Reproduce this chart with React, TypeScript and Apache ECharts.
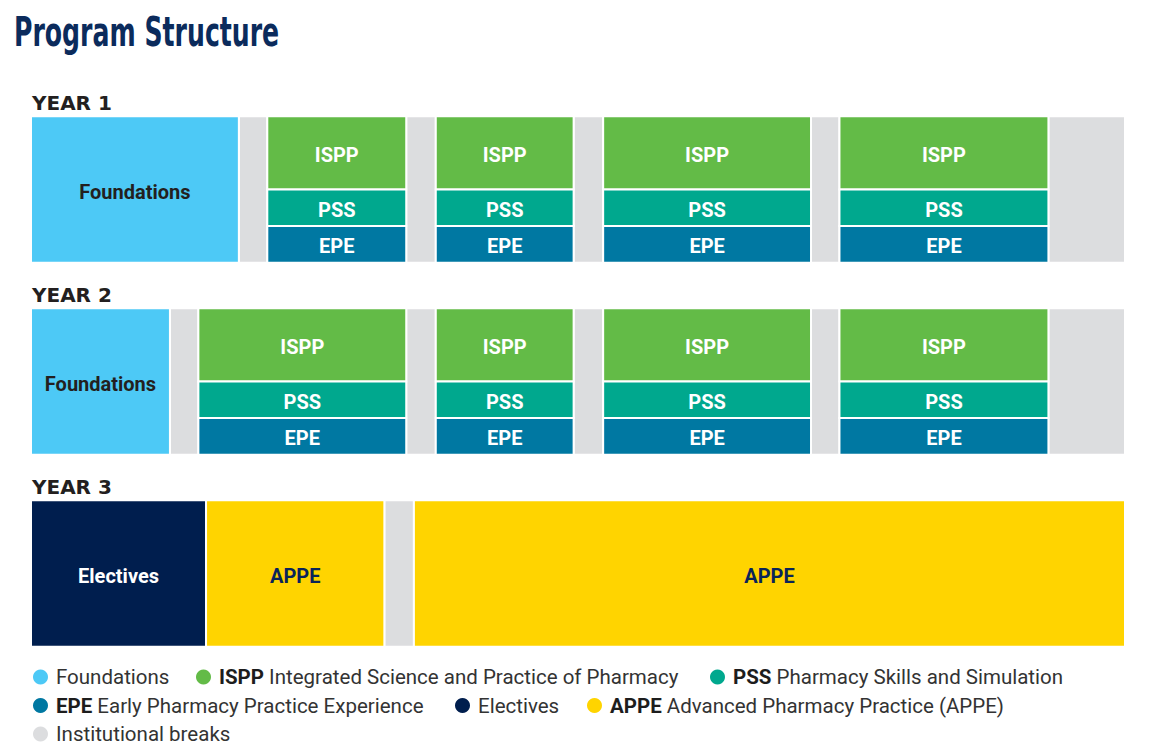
import { useEffect, useRef } from 'react';
import * as echarts from 'echarts';

// ---- data (x values are % of the academic year, rows are years) ----
const yearLabels = ['YEAR 1', 'YEAR 2', 'YEAR 3'];
// [yearIndex, start, end]
const foundations = [
  [0, 0, 19.0],
  [1, 0, 12.7],
];
const coreBlocks = [
  [0, 21.6, 34.3], [0, 37.0, 49.6], [0, 52.3, 71.3], [0, 73.9, 93.0],
  [1, 15.3, 34.3], [1, 37.0, 49.6], [1, 52.3, 71.3], [1, 73.9, 93.0],
];
const breaks = [
  [0, 19.0, 21.6], [0, 34.3, 37.0], [0, 49.6, 52.3], [0, 71.3, 73.9], [0, 93.0, 100],
  [1, 12.7, 15.3], [1, 34.3, 37.0], [1, 49.6, 52.3], [1, 71.3, 73.9], [1, 93.0, 100],
  [2, 32.3, 35.0],
];
const electives = [[2, 0, 16.0]];
const appe = [
  [2, 16.0, 32.3],
  [2, 35.0, 100],
];
const legendNames = ['Foundations', 'ISPP', 'PSS', 'EPE', 'Electives', 'APPE', 'Institutional breaks'];
const legendDesc: Record<string, string> = {
  Foundations: '',
  ISPP: 'Integrated Science and Practice of Pharmacy',
  PSS: 'Pharmacy Skills and Simulation',
  EPE: 'Early Pharmacy Practice Experience',
  Electives: '',
  APPE: 'Advanced Pharmacy Practice (APPE)',
  'Institutional breaks': '',
};

// ---- layout / styles ----
const legendPos: Record<string, [number, number]> = {
  Foundations: [33, 666.5],
  ISPP: [196, 666.5],
  PSS: [710, 666.5],
  EPE: [33, 695],
  Electives: [455, 695],
  APPE: [587, 695],
  'Institutional breaks': [33, 723.5],
};
const COLORS = {
  foundations: '#4dc9f6',
  ispp: '#63bb47',
  pss: '#00a88e',
  epe: '#0078a2',
  electives: '#001e4e',
  appe: '#ffd400',
  breaks: '#dcdddf',
};
const ROW_PITCH = 4;
const ROW_H = 3.05;
const BANDS: Record<string, [number, number]> = {
  full: [0, 1],
  ispp: [0, 0.5],
  pss: [0.5, 0.75],
  epe: [0.75, 1],
};

function makeRender(band: [number, number], label: string, textColor: string) {
  return (params: any, api: any) => {
    const row = api.value(0);
    const s = api.value(1);
    const e = api.value(2);
    const top = row * ROW_PITCH + band[0] * ROW_H;
    const bot = row * ROW_PITCH + band[1] * ROW_H;
    const p0 = api.coord([s, top]);
    const p1 = api.coord([e, bot]);
    const x = p0[0];
    const y = p0[1];
    const w = p1[0] - p0[0];
    const h = p1[1] - p0[1];
    const children: any[] = [
      {
        type: 'rect',
        shape: { x, y, width: w, height: h },
        style: { fill: api.visual('color'), stroke: '#ffffff', lineWidth: 2 },
      },
    ];
    if (label) {
      children.push({
        type: 'text',
        style: {
          text: label,
          x: x + w / 2,
          y: y + h / 2 + 2,
          align: 'center',
          verticalAlign: 'middle',
          fill: textColor,
          font: 'bold 20px Roboto',
        },
      });
    }
    return { type: 'group', children };
  };
}

export default function App() {
  const ref = useRef<HTMLDivElement>(null);

  useEffect(() => {
    document.body.style.margin = '0';
    if (!ref.current) return;
    const chart = echarts.init(ref.current, null, { renderer: 'svg' });

    const legendCommon = {
      orient: 'horizontal',
      icon: 'circle',
      itemWidth: 15,
      itemHeight: 15,
      itemGap: 29,
      padding: 0,
      selectedMode: false,
      formatter: (name: string) => {
        const d = legendDesc[name];
        return d ? `{b|${name}} ${d}` : name;
      },
      textStyle: {
        fontFamily: 'Roboto',
        fontSize: 20.5,
        lineHeight: 20,
        color: '#333333',
        padding: [0, 0, 0, 3],
        rich: {
          b: {
            fontFamily: 'Roboto',
            fontSize: 20.5,
            lineHeight: 20,
            fontWeight: 'bold',
            color: '#1d1d1d',
          },
        },
      },
    };

    chart.setOption({
      animation: false,
      backgroundColor: '#ffffff',
      grid: { left: 31, right: 32, top: 116.3, bottom: 109.3, containLabel: false },
      xAxis: { type: 'value', min: 0, max: 100, show: false },
      yAxis: { type: 'value', min: 0, max: 2 * ROW_PITCH + ROW_H, inverse: true, show: false },
      legend: legendNames.map((n) => ({
        ...legendCommon,
        left: legendPos[n][0],
        top: legendPos[n][1],
        data: [n],
      })),
      graphic: [
        {
          type: 'text',
          x: 14,
          y: 31,
          scaleX: 0.682,
          style: {
            text: 'Program Structure',
            font: 'bold 41px "DejaVu Sans Condensed"',
            fill: '#0b2b5c',
            verticalAlign: 'middle',
            align: 'left',
          },
        },
      ],
      series: [
        {
          type: 'custom',
          name: 'Institutional breaks',
          data: breaks,
          itemStyle: { color: COLORS.breaks },
          renderItem: makeRender(BANDS.full, '', ''),
          silent: true,
        },
        {
          type: 'custom',
          name: 'Foundations',
          data: foundations,
          itemStyle: { color: COLORS.foundations },
          renderItem: makeRender(BANDS.full, 'Foundations', '#231f20'),
          silent: true,
        },
        {
          type: 'custom',
          name: 'ISPP',
          data: coreBlocks,
          itemStyle: { color: COLORS.ispp },
          renderItem: makeRender(BANDS.ispp, 'ISPP', '#ffffff'),
          silent: true,
        },
        {
          type: 'custom',
          name: 'PSS',
          data: coreBlocks,
          itemStyle: { color: COLORS.pss },
          renderItem: makeRender(BANDS.pss, 'PSS', '#ffffff'),
          silent: true,
        },
        {
          type: 'custom',
          name: 'EPE',
          data: coreBlocks,
          itemStyle: { color: COLORS.epe },
          renderItem: makeRender(BANDS.epe, 'EPE', '#ffffff'),
          silent: true,
        },
        {
          type: 'custom',
          name: 'Electives',
          data: electives,
          itemStyle: { color: COLORS.electives },
          renderItem: makeRender(BANDS.full, 'Electives', '#ffffff'),
          silent: true,
        },
        {
          type: 'custom',
          name: 'APPE',
          data: appe,
          itemStyle: { color: COLORS.appe },
          renderItem: makeRender(BANDS.full, 'APPE', '#0a2459'),
          silent: true,
        },
        {
          type: 'custom',
          name: 'yearLabels',
          data: yearLabels.map((_, i) => [i]),
          silent: true,
          renderItem: (params: any, api: any) => {
            const row = api.value(0);
            const p = api.coord([0, row * ROW_PITCH]);
            return {
              type: 'text',
              style: {
                text: yearLabels[row],
                x: p[0] + 1,
                y: p[1] - 13,
                align: 'left',
                verticalAlign: 'middle',
                fill: '#231f20',
                font: 'bold 20px "DejaVu Sans"',
              },
            };
          },
        },
      ],
    });

    return () => chart.dispose();
  }, []);

  return <div ref={ref} style={{ width: 1157, height: 756 }} />;
}
